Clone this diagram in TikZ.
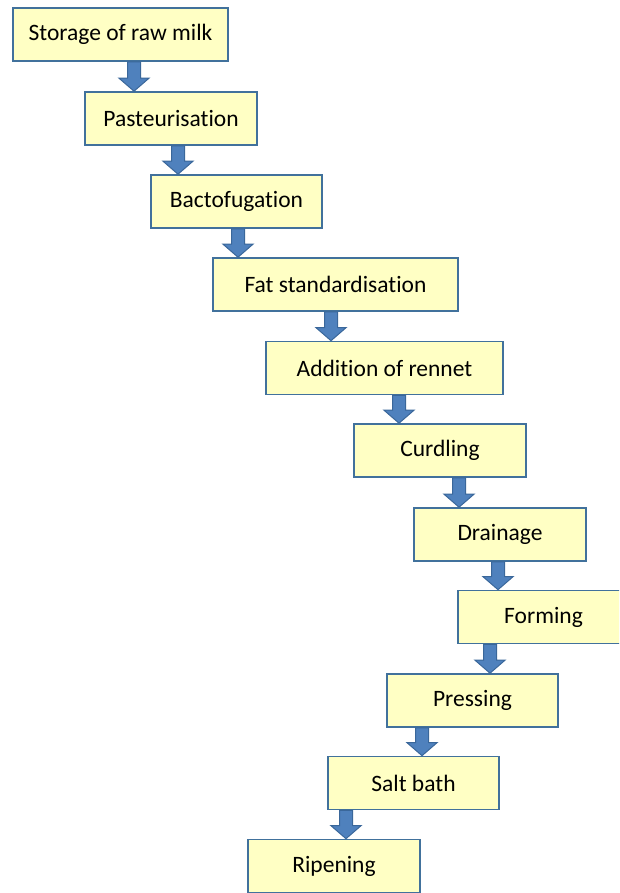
\documentclass[tikz,border=0pt]{standalone}
\usepackage{fontspec}
\setmainfont{Carlito}[Ligatures={NoCommon}]
\usetikzlibrary{positioning}
\definecolor{boxfill}{HTML}{FFFFC4}
\definecolor{boxline}{HTML}{41719C}
\definecolor{arrowfill}{HTML}{4F81BD}
\definecolor{arrowline}{HTML}{3A679A}
\tikzset{
    stage/.style={shape=rectangle, draw=boxline, fill=boxfill, line width=1.6pt,
        minimum width=171pt, minimum height=53pt, inner sep=0pt, font=\fontsize{23.5}{26}\selectfont},
    flowarrow/.style={draw=arrowline, fill=arrowfill, line width=1pt, line join=miter}
}
% block arrow from #1 down to #2, at x = #3
\newcommand\flowstep[3]{%
    \coordinate (ax) at (#3,0);
    \coordinate (s) at (#1.south -| ax);
    \coordinate (e) at (#2.north -| ax);
    \draw [flowarrow] ([xshift=-6.5pt]s) -- ([xshift=-6.5pt, yshift=13pt]e)
        -- ([xshift=-15pt, yshift=13pt]e) -- (e) -- ([xshift=15pt, yshift=13pt]e)
        -- ([xshift=6.5pt, yshift=13pt]e) -- ([xshift=6.5pt]s) -- cycle;
}
\begin{document}
\begin{tikzpicture}[x=1pt, y=1pt]
    \useasboundingbox (0,0) rectangle (619,-893);
    \begin{scope}
    \clip (0,0) rectangle (619,-893);

    % stages
    \node [stage, minimum width=215pt] at (120.5,-34.5) (storage) {Storage of raw milk};
    \node [stage, minimum width=172pt] at (171,-118.5)  (pasteur) {Pasteurisation};
    \node [stage]                      at (236.5,-201.5) (bacto)  {Bactofugation};
    \node [stage, minimum width=245pt] at (335.5,-284.5) (fat)    {Fat standardisation};
    \node [stage, minimum width=237pt] at (384.5,-368)  (rennet)  {Addition of rennet};
    \node [stage, minimum width=172pt] at (440,-450.5)  (curd)    {Curdling};
    \node [stage, minimum width=172pt] at (500,-534.5)  (drain)   {Drainage};
    \node [stage]                      at (543.5,-617)  (form)    {Forming};
    \node [stage]                      at (472.5,-700.5) (press)  {Pressing};
    \node [stage]                      at (413.5,-783)  (salt)    {Salt bath};
    \node [stage, minimum width=172pt] at (334,-866)    (ripen)   {Ripening};

    % arrows
    \flowstep{storage}{pasteur}{134}
    \flowstep{pasteur}{bacto}{178}
    \flowstep{bacto}{fat}{238}
    \flowstep{fat}{rennet}{331}
    \flowstep{rennet}{curd}{399}
    \flowstep{curd}{drain}{459}
    \flowstep{drain}{form}{498}
    \flowstep{form}{press}{490}
    \flowstep{press}{salt}{422}
    \flowstep{salt}{ripen}{346}
    \end{scope}
\end{tikzpicture}
\end{document}
